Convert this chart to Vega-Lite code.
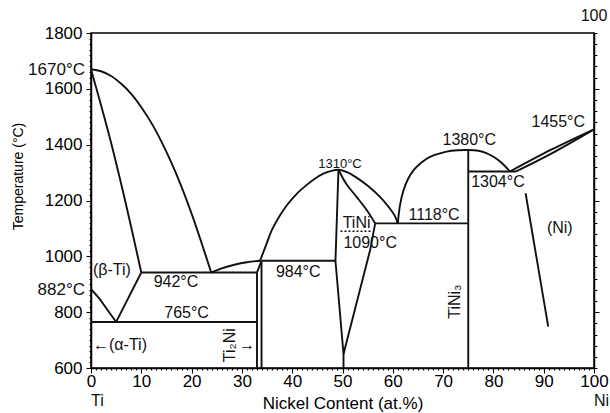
{
  "$schema": "https://vega.github.io/schema/vega-lite/v6.json",
  "width": 503,
  "height": 335,
  "autosize": "none",
  "padding": {"left": 91, "top": 33, "right": 16, "bottom": 45},
  "background": "white",
  "config": {
    "font": "Liberation Sans",
    "view": {"stroke": "black", "strokeWidth": 1.5},
    "axis": {"grid": false, "domainColor": "black", "domainWidth": 1.5, "tickColor": "black", "labelColor": "black", "titleColor": "black", "titleFontWeight": "normal"}
  },
  "datasets": {
    "curves": [
      {"id": "liqTi", "o": 1, "x": 0, "t": 1670}, {"id": "liqTi", "o": 2, "x": 2, "t": 1663}, {"id": "liqTi", "o": 3, "x": 4, "t": 1646}, {"id": "liqTi", "o": 4, "x": 6, "t": 1618}, {"id": "liqTi", "o": 5, "x": 8, "t": 1582}, {"id": "liqTi", "o": 6, "x": 10, "t": 1534}, {"id": "liqTi", "o": 7, "x": 12, "t": 1478}, {"id": "liqTi", "o": 8, "x": 14, "t": 1411}, {"id": "liqTi", "o": 9, "x": 16, "t": 1335}, {"id": "liqTi", "o": 10, "x": 18, "t": 1249}, {"id": "liqTi", "o": 11, "x": 20, "t": 1153}, {"id": "liqTi", "o": 12, "x": 22, "t": 1047}, {"id": "liqTi", "o": 13, "x": 23.9, "t": 942},
      {"id": "solTi", "o": 1, "x": 0, "t": 1670}, {"id": "solTi", "o": 2, "x": 3.8, "t": 1420}, {"id": "solTi", "o": 3, "x": 7.1, "t": 1175}, {"id": "solTi", "o": 4, "x": 10, "t": 942},
      {"id": "bt", "o": 1, "x": 0, "t": 882}, {"id": "bt", "o": 2, "x": 1.5, "t": 852}, {"id": "bt", "o": 3, "x": 3, "t": 815}, {"id": "bt", "o": 4, "x": 5, "t": 765},
      {"id": "liqA", "o": 1, "x": 23.9, "t": 942}, {"id": "liqA", "o": 2, "x": 26, "t": 957}, {"id": "liqA", "o": 3, "x": 28.5, "t": 970}, {"id": "liqA", "o": 4, "x": 31, "t": 979}, {"id": "liqA", "o": 5, "x": 33.6, "t": 984},
      {"id": "liqB", "o": 1, "x": 33.6, "t": 984}, {"id": "liqB", "o": 2, "x": 34.8, "t": 1040}, {"id": "liqB", "o": 3, "x": 35.9, "t": 1092}, {"id": "liqB", "o": 4, "x": 37.4, "t": 1142}, {"id": "liqB", "o": 5, "x": 38.9, "t": 1182}, {"id": "liqB", "o": 6, "x": 40.9, "t": 1224}, {"id": "liqB", "o": 7, "x": 42.9, "t": 1256}, {"id": "liqB", "o": 8, "x": 44.5, "t": 1278}, {"id": "liqB", "o": 9, "x": 46.2, "t": 1296}, {"id": "liqB", "o": 10, "x": 47.8, "t": 1306}, {"id": "liqB", "o": 11, "x": 49.2, "t": 1310}, {"id": "liqB", "o": 12, "x": 51, "t": 1301}, {"id": "liqB", "o": 13, "x": 52.8, "t": 1282}, {"id": "liqB", "o": 14, "x": 55.2, "t": 1250}, {"id": "liqB", "o": 15, "x": 57.5, "t": 1212}, {"id": "liqB", "o": 16, "x": 59.2, "t": 1176}, {"id": "liqB", "o": 17, "x": 60.4, "t": 1145}, {"id": "liqB", "o": 18, "x": 61, "t": 1118},
      {"id": "tiniR", "o": 1, "x": 49.2, "t": 1310}, {"id": "tiniR", "o": 2, "x": 50.8, "t": 1258}, {"id": "tiniR", "o": 3, "x": 52.8, "t": 1213}, {"id": "tiniR", "o": 4, "x": 54.8, "t": 1166}, {"id": "tiniR", "o": 5, "x": 56.5, "t": 1118},
      {"id": "liq3", "o": 1, "x": 61, "t": 1118}, {"id": "liq3", "o": 2, "x": 61.4, "t": 1180}, {"id": "liq3", "o": 3, "x": 62.1, "t": 1235}, {"id": "liq3", "o": 4, "x": 63, "t": 1276}, {"id": "liq3", "o": 5, "x": 64.1, "t": 1308}, {"id": "liq3", "o": 6, "x": 65.7, "t": 1336}, {"id": "liq3", "o": 7, "x": 67.4, "t": 1356}, {"id": "liq3", "o": 8, "x": 70.7, "t": 1375}, {"id": "liq3", "o": 9, "x": 73, "t": 1380}, {"id": "liq3", "o": 10, "x": 75, "t": 1381}, {"id": "liq3", "o": 11, "x": 77, "t": 1378}, {"id": "liq3", "o": 12, "x": 78.7, "t": 1369}, {"id": "liq3", "o": 13, "x": 80.1, "t": 1356}, {"id": "liq3", "o": 14, "x": 81.5, "t": 1337}, {"id": "liq3", "o": 15, "x": 83.3, "t": 1304},
      {"id": "liqNi", "o": 1, "x": 83.3, "t": 1304}, {"id": "liqNi", "o": 2, "x": 91.5, "t": 1382}, {"id": "liqNi", "o": 3, "x": 100, "t": 1455},
      {"id": "solNi", "o": 1, "x": 84.5, "t": 1304}, {"id": "solNi", "o": 2, "x": 91.5, "t": 1368}, {"id": "solNi", "o": 3, "x": 100, "t": 1455}
    ],
    "lines": [
      {"id": "bt2", "o": 1, "x": 5, "t": 765}, {"id": "bt2", "o": 2, "x": 10, "t": 942},
      {"id": "h942", "o": 1, "x": 10, "t": 942}, {"id": "h942", "o": 2, "x": 33, "t": 942},
      {"id": "h765", "o": 1, "x": 0, "t": 765}, {"id": "h765", "o": 2, "x": 33, "t": 765},
      {"id": "t2a", "o": 1, "x": 33, "t": 600}, {"id": "t2a", "o": 2, "x": 33, "t": 942}, {"id": "t2a", "o": 3, "x": 33.9, "t": 984},
      {"id": "t2b", "o": 1, "x": 33.9, "t": 600}, {"id": "t2b", "o": 2, "x": 33.9, "t": 984},
      {"id": "h984", "o": 1, "x": 33.9, "t": 984}, {"id": "h984", "o": 2, "x": 48.6, "t": 984},
      {"id": "tiniL", "o": 1, "x": 49.2, "t": 1310}, {"id": "tiniL", "o": 2, "x": 48.6, "t": 984}, {"id": "tiniL", "o": 3, "x": 50.2, "t": 650}, {"id": "tiniL", "o": 4, "x": 50.2, "t": 600},
      {"id": "tiniR2", "o": 1, "x": 56.5, "t": 1118}, {"id": "tiniR2", "o": 2, "x": 55.5, "t": 1023}, {"id": "tiniR2", "o": 3, "x": 50.2, "t": 650},
      {"id": "h1118", "o": 1, "x": 56.5, "t": 1118}, {"id": "h1118", "o": 2, "x": 75, "t": 1118},
      {"id": "tini3", "o": 1, "x": 75, "t": 600}, {"id": "tini3", "o": 2, "x": 75, "t": 1381},
      {"id": "h1304", "o": 1, "x": 75, "t": 1304}, {"id": "h1304", "o": 2, "x": 84.5, "t": 1304},
      {"id": "solvNi", "o": 1, "x": 86.4, "t": 1226}, {"id": "solvNi", "o": 2, "x": 90.9, "t": 748}
    ],
    "dotted": [
      {"id": "d1090", "o": 1, "x": 49.6, "t": 1090}, {"id": "d1090", "o": 2, "x": 55.8, "t": 1090}
    ],
    "labels": [
      {"x": 16.9, "t": 909, "label": "942°C"},
      {"x": 19, "t": 796, "label": "765°C"},
      {"x": 41.2, "t": 945, "label": "984°C"},
      {"x": 55.5, "t": 1047, "label": "1090°C"},
      {"x": 52.8, "t": 1118, "label": "TiNi"},
      {"x": 68.2, "t": 1148, "label": "1118°C"},
      {"x": 75.2, "t": 1417, "label": "1380°C"},
      {"x": 80.9, "t": 1267, "label": "1304°C"},
      {"x": 92.9, "t": 1482, "label": "1455°C"},
      {"x": 93.2, "t": 1100, "label": "(Ni)"},
      {"x": 31, "t": 682, "label": "→"}
    ],
    "small": [
      {"x": 49.5, "t": 1331, "label": "1310°C"}
    ],
    "leftLabels": [
      {"x": 0.4, "t": 951, "label": "(β-Ti)"},
      {"x": 0.4, "t": 682, "label": "←(α-Ti)"}
    ],
    "outside": [
      {"x": 0, "t": 1667, "label": "1670°C"},
      {"x": 0, "t": 880, "label": "882°C"}
    ],
    "rotated": [
      {"x": 27.6, "t": 682, "label": "Ti₂Ni"},
      {"x": 72.4, "t": 838, "label": "TiNi₃"}
    ],
    "ends": [
      {"x": 0, "t": 600, "label": "Ti"},
      {"x": 100, "t": 600, "label": "Ni"}
    ],
    "top": [
      {"x": 100, "t": 1800, "label": "100"}
    ]
  },
  "encoding": {
    "x": {"field": "x", "type": "quantitative", "scale": {"domain": [0, 100], "nice": false},
      "axis": {
        "values": [0,1,2,3,4,5,6,7,8,9,10,11,12,13,14,15,16,17,18,19,20,21,22,23,24,25,26,27,28,29,30,31,32,33,34,35,36,37,38,39,40,41,42,43,44,45,46,47,48,49,50,51,52,53,54,55,56,57,58,59,60,61,62,63,64,65,66,67,68,69,70,71,72,73,74,75,76,77,78,79,80,81,82,83,84,85,86,87,88,89,90,91,92,93,94,95,96,97,98,99,100],
        "labelExpr": "datum.value % 10 === 0 ? datum.label : ''",
        "tickSize": {"condition": {"test": "datum.value % 10 === 0", "value": 5}, "value": 2},
        "labelFontSize": 17, "labelPadding": 0, "labelOverlap": false, "labelFlush": false,
        "title": "Nickel Content (at.%)", "titleFontSize": 17, "titlePadding": 6
      }}
  },
  "resolve": {"axis": {"y": "independent"}},
  "layer": [
    {
      "data": {"name": "curves"},
      "mark": {"type": "line", "color": "#111111", "strokeWidth": 1.9, "interpolate": "catmull-rom"},
      "encoding": {
        "y": {"field": "t", "type": "quantitative", "scale": {"domain": [600, 1800], "nice": false, "zero": false},
          "axis": {
            "values": [600,620,640,660,680,700,720,740,760,780,800,820,840,860,880,900,920,940,960,980,1000,1020,1040,1060,1080,1100,1120,1140,1160,1180,1200,1220,1240,1260,1280,1300,1320,1340,1360,1380,1400,1420,1440,1460,1480,1500,1520,1540,1560,1580,1600,1620,1640,1660,1680,1700,1720,1740,1760,1780,1800],
            "labelExpr": "datum.value % 200 === 0 ? datum.label : ''",
            "format": "d",
            "tickSize": {"condition": {"test": "datum.value % 200 === 0", "value": 5}, "value": 2},
            "labelFontSize": 17, "labelPadding": 4, "labelOverlap": false, "labelFlush": false,
            "title": "Temperature (°C)", "titleFontSize": 14, "titleAngle": 270,
            "titleX": -73, "titleY": 143, "titleAlign": "center", "titleBaseline": "middle"
          }},
        "detail": {"field": "id"},
        "order": {"field": "o"}
      }
    },
    {
      "data": {"name": "lines"},
      "mark": {"type": "line", "color": "#111111", "strokeWidth": 1.9},
      "encoding": {
        "y": {"field": "t", "type": "quantitative", "axis": null},
        "detail": {"field": "id"},
        "order": {"field": "o"}
      }
    },
    {
      "data": {"name": "dotted"},
      "mark": {"type": "line", "color": "#111111", "strokeWidth": 1.5, "strokeDash": [2, 2]},
      "encoding": {
        "y": {"field": "t", "type": "quantitative", "axis": null},
        "detail": {"field": "id"},
        "order": {"field": "o"}
      }
    },
    {
      "data": {"name": "labels"},
      "mark": {"type": "text", "fontSize": 16, "color": "#111111", "align": "center", "baseline": "middle"},
      "encoding": {
        "y": {"field": "t", "type": "quantitative", "axis": null},
        "text": {"field": "label"}
      }
    },
    {
      "data": {"name": "small"},
      "mark": {"type": "text", "fontSize": 13, "color": "#111111", "align": "center", "baseline": "middle"},
      "encoding": {
        "y": {"field": "t", "type": "quantitative", "axis": null},
        "text": {"field": "label"}
      }
    },
    {
      "data": {"name": "leftLabels"},
      "mark": {"type": "text", "fontSize": 16, "color": "#111111", "align": "left", "baseline": "middle"},
      "encoding": {
        "y": {"field": "t", "type": "quantitative", "axis": null},
        "text": {"field": "label"}
      }
    },
    {
      "data": {"name": "outside"},
      "mark": {"type": "text", "fontSize": 17, "color": "#111111", "align": "right", "baseline": "middle", "dx": -6},
      "encoding": {
        "y": {"field": "t", "type": "quantitative", "axis": null},
        "text": {"field": "label"}
      }
    },
    {
      "data": {"name": "rotated"},
      "mark": {"type": "text", "fontSize": 16, "color": "#111111", "align": "center", "baseline": "middle", "angle": 270},
      "encoding": {
        "y": {"field": "t", "type": "quantitative", "axis": null},
        "text": {"field": "label"}
      }
    },
    {
      "data": {"name": "ends"},
      "mark": {"type": "text", "fontSize": 16, "color": "#111111", "align": "left", "baseline": "middle", "dy": 33},
      "encoding": {
        "y": {"field": "t", "type": "quantitative", "axis": null},
        "text": {"field": "label"}
      }
    },
    {
      "data": {"name": "top"},
      "mark": {"type": "text", "fontSize": 16, "color": "#111111", "align": "center", "baseline": "middle", "dy": -17},
      "encoding": {
        "y": {"field": "t", "type": "quantitative",
          "axis": {
            "orient": "right",
            "values": [600,640,680,720,760,800,840,880,920,960,1000,1040,1080,1120,1160,1200,1240,1280,1320,1360,1400,1440,1480,1520,1560,1600,1640,1680,1720,1760,1800],
            "labels": false, "title": null,
            "tickSize": {"condition": {"test": "datum.value === 800 || datum.value === 1200 || datum.value === 1600", "value": 5}, "value": 3}
          }},
        "text": {"field": "label"}
      }
    }
  ]
}
